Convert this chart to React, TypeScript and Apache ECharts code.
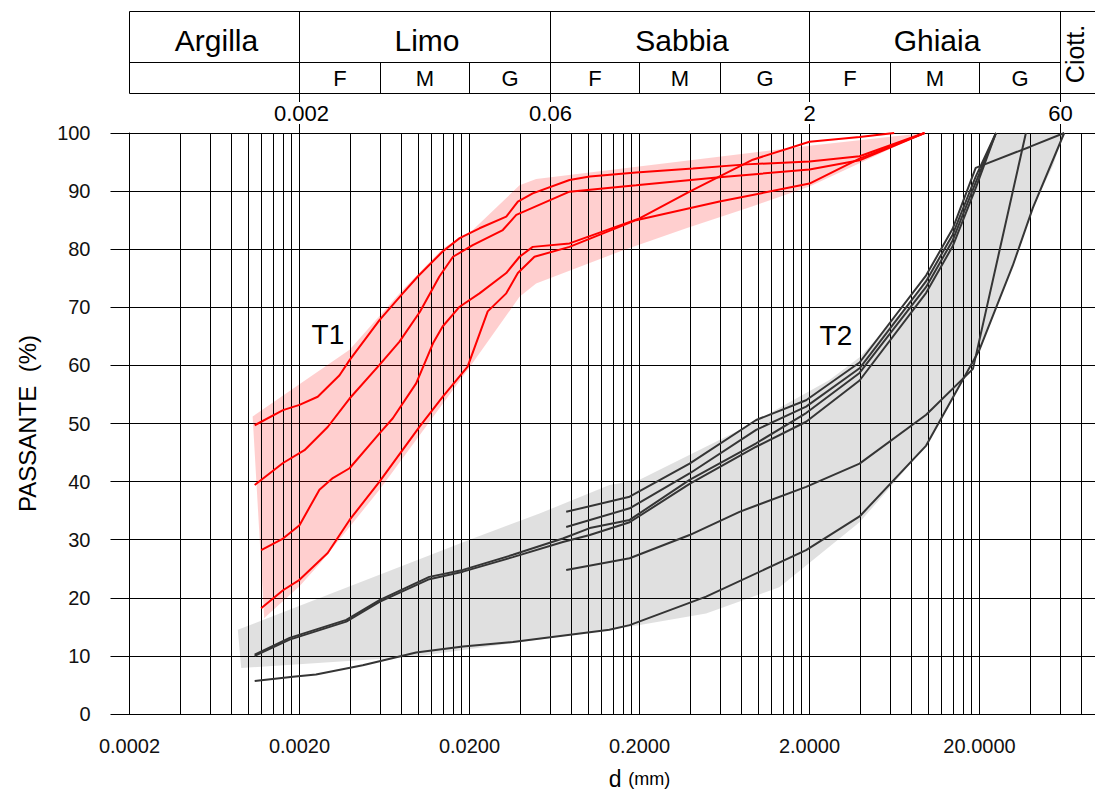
import React, { useEffect, useRef } from 'react';
import * as echarts from 'echarts';

const FONT = "'Liberation Sans', Arial, sans-serif";
const D0 = 0.0002; // left end of the grain-size axis (mm)
const D_MAX = 200; // right end of the grain-size axis (mm), beyond the cropped picture

// x tick labels (decades from 0.0002 mm)
const X_DECIMALS = 4;

// ---- T1 curves (d in mm, passante %) ----
const T1_A: [number, number][] = [[0.00109,49.7],[0.0016,52.3],[0.002,53.2],[0.00256,54.6],[0.00344,58.3],[0.00394,60.9],[0.00591,67.8],[0.0081,72.4],[0.00993,75.3],[0.0139,79.6],[0.0175,81.9],[0.0229,83.6],[0.0329,85.6],[0.0385,88.2],[0.0471,89.6],[0.0775,91.9],[0.102,92.5],[0.191,93.2],[0.412,93.9],[0.849,94.6],[2.0,95.1],[3.94,96.0],[9.5,100]];
const T1_B: [number, number][] = [[0.00109,39.4],[0.0016,43.2],[0.00214,45.4],[0.00293,49.4],[0.00394,54.3],[0.00591,60.1],[0.00775,64.1],[0.0102,69.2],[0.0133,75.3],[0.016,78.7],[0.0209,80.7],[0.0314,83.3],[0.0377,85.9],[0.0775,89.9],[0.191,91.0],[0.591,92.4],[2.0,93.7],[3.94,95.3],[9.5,100]];
const T1_C: [number, number][] = [[0.00119,28.2],[0.0016,30.2],[0.002,32.5],[0.00262,38.6],[0.00314,40.6],[0.00394,42.3],[0.00591,48.3],[0.00708,50.9],[0.00971,56.9],[0.0122,63.8],[0.0139,66.7],[0.0175,70.1],[0.0229,72.4],[0.0329,75.9],[0.0394,78.7],[0.0471,80.4],[0.0775,81.0],[0.2,85.3],[0.394,89.9],[0.928,95.4],[2.0,98.5],[3.94,99.3],[6.3,100]];
const T1_D: [number, number][] = [[0.00119,18.2],[0.0016,21.3],[0.002,23.1],[0.00293,27.7],[0.00394,33.4],[0.00591,40.0],[0.0102,49.5],[0.0139,54.6],[0.0195,59.8],[0.0256,69.3],[0.0329,72.4],[0.0385,75.9],[0.0482,78.7],[0.0775,80.4],[0.191,85.0],[0.591,88.2],[2.0,91.3],[3.94,95.6],[9.5,100]];

// T1 envelope (upper edge left->right, lower edge right->left)
const T1_BAND_UPPER: [number, number][] = [[0.00106,51.2],[0.00394,62.7],[0.0081,73.0],[0.0139,80.1],[0.0209,83.3],[0.0394,91.0],[0.0493,92.1],[2.0,97.8],[9.5,100]];
const T1_BAND_LOWER: [number, number][] = [[9.5,100],[2.0,90.8],[0.928,87.4],[0.377,83.6],[0.153,79.6],[0.0493,74.1],[0.0394,71.8],[0.0195,59.2],[0.0111,49.5],[0.00591,38.6],[0.00394,32.2],[0.00262,25.8],[0.002,22.0],[0.00127,16.8],[0.00124,16.5]];

// ---- T2 curves ----
const T2_Y: [number, number][] = [[0.00109,5.7],[0.00183,6.4],[0.0025,6.8],[0.00471,8.4],[0.00971,10.6],[0.0183,11.6],[0.036,12.4],[0.133,14.5],[0.175,15.3],[0.493,20.2],[1.91,28.2],[3.94,34.0],[9.71,46.2],[20,62.7],[31.4,77.2],[41.2,87.1],[63,100]];
const T2_X: [number, number][] = [[0.0741,24.8],[0.175,26.8],[0.394,30.8],[0.775,34.8],[1.91,39.1],[3.94,43.1],[9.71,51.5],[18.3,59.4],[37.5,100]];
const T2_L1: [number, number][] = [[0.0741,34.8],[0.175,37.4],[0.394,43.1],[0.971,50.6],[1.91,54.0],[3.94,60.5],[9.71,75.5],[13.9,83.5],[19,94.0],[39.4,97.6],[63,100]];
const T2_L2: [number, number][] = [[0.0741,32.2],[0.175,35.4],[0.394,41.4],[0.971,48.9],[1.91,52.9],[3.94,59.5],[9.71,74.5],[13.9,82.5],[19,92.5],[25,100]];
const T2_TA: [number, number][] = [[0.00109,10.2],[0.00175,13.1],[0.00377,16.2],[0.00591,19.6],[0.0116,23.6],[0.0183,24.8],[0.036,27.4],[0.0708,30.2],[0.102,32.0],[0.175,33.4],[0.394,40.3],[0.971,46.6],[1.91,51.8],[3.94,58.7],[9.71,73.5],[13.9,81.5],[19,91.5],[25,100]];
const T2_TB: [number, number][] = [[0.00109,10.0],[0.00175,12.8],[0.00377,15.9],[0.00591,19.3],[0.0116,23.2],[0.0183,24.5],[0.036,27.0],[0.0708,29.6],[0.102,30.8],[0.175,33.0],[0.394,39.6],[0.971,46.0],[1.91,50.3],[3.94,57.4],[9.71,72.5],[13.9,80.5],[19,90.5],[25,100]];

const T2_BAND_UPPER: [number, number][] = [[0.000867,14.5],[0.02,30.0],[0.0516,34.5],[0.133,39.4],[0.2,40.3],[0.775,48.9],[2.62,57.5],[3.94,61.4],[8.07,71.3],[13.9,82.4],[20,93.0],[25.1,100],[63,100]];
const T2_BAND_LOWER: [number, number][] = [[63,100],[54,94.3],[41.2,87.1],[31.4,77.2],[20,62.7],[9.71,46.2],[5.91,38.9],[3.94,33.0],[1.33,21.8],[0.493,17.3],[0.159,14.8],[0.0097,9.9],[0.000908,7.9]];

// ---- header table (classification) ----
const CLASSES = ['Argilla', 'Limo', 'Sabbia', 'Ghiaia'];
const CLASS_BOUNDS = [D0, 0.002, 0.06, 2, 60];
const SUB_BOUNDS = [0.006, 0.02, 0.2, 0.6, 6, 20];
const SUB_LABELS = ['F', 'M', 'G'];
const BOUND_LABELS = ['0.002', '0.06', '2', '60'];
const BOUND_VALUES = [0.002, 0.06, 2, 60];
const LAST_CLASS = 'Ciott.';

// group labels placed in the plot
const GROUP_LABELS: { text: string; d: number; p: number }[] = [
  { text: 'T1', d: 0.00294, p: 65.4 },
  { text: 'T2', d: 2.86, p: 65.1 },
];

const toU = (d: number) => Math.log10(d / D0);

export default function App() {
  const ref = useRef<HTMLDivElement>(null);
  useEffect(() => {
    document.documentElement.style.overflow = 'hidden';
    document.body.style.margin = '0';
    document.body.style.overflow = 'hidden';
    const chart = echarts.init(ref.current!, null, { renderer: 'svg' });
    const toLine = (pts: [number, number][]) => pts.map(([d, p]) => [toU(d), p]);
    const crisp = (v: number) => Math.round(v - 0.5) + 0.5;

    // vertical log grid lines: m * 10^k * D0
    const gridU: number[][] = [];
    for (let k = 0; k < 6; k++) {
      for (let m = 1; m <= 9; m++) {
        const d = D0 * m * Math.pow(10, k);
        if (d <= D_MAX) gridU.push([toU(d), 0]);
      }
    }

    const bandSeries = (upper: [number, number][], lower: [number, number][], fill: string) => {
      const pts = toLine([...upper, ...lower]);
      return {
        type: 'custom',
        coordinateSystem: 'cartesian2d',
        silent: true,
        z: 1,
        data: [[0, 0]],
        renderItem: (_p: any, api: any) => ({
          type: 'polygon',
          shape: { points: pts.map((p) => api.coord(p)) },
          style: { fill },
        }),
      };
    };

    const lineSeries = (pts: [number, number][], color: string) => ({
      type: 'line',
      data: toLine(pts),
      showSymbol: false,
      symbol: 'none',
      silent: true,
      z: 3,
      lineStyle: { color, width: 2 },
    });

    const option: any = {
      animation: false,
      grid: { left: 129.5, top: 133, width: 1020, height: 581, containLabel: false, outerBoundsMode: 'none' },
      xAxis: {
        type: 'value',
        min: 0,
        max: toU(D_MAX),
        interval: 1,
        axisLine: { show: true, lineStyle: { color: '#000', width: 1 } },
        axisTick: { show: false },
        splitLine: { show: false },
        axisLabel: {
          showMaxLabel: false,
          fontSize: 20,
          fontFamily: FONT,
          color: '#111',
          margin: 22,
          formatter: (u: number) => Number((D0 * Math.pow(10, u)).toPrecision(1)).toFixed(X_DECIMALS),
        },
        name: '{a|d}  {b|(mm)}',
        nameLocation: 'middle',
        nameGap: 54,
        nameTextStyle: {
          lineHeight: 22,
          rich: {
            a: { fontSize: 23, lineHeight: 22, fontFamily: FONT, color: '#000' },
            b: { fontSize: 18, lineHeight: 22, fontFamily: FONT, color: '#000' },
          },
        },
      },
      yAxis: {
        type: 'value',
        min: 0,
        max: 100,
        interval: 10,
        axisLine: { show: true, lineStyle: { color: '#000', width: 1 } },
        axisTick: { show: true, length: 19, lineStyle: { color: '#000' } },
        splitLine: { show: true, lineStyle: { color: '#000', width: 1 } },
        axisLabel: { fontSize: 20, fontFamily: FONT, color: '#111', margin: 39 },
        name: 'PASSANTE\u00a0\u00a0(%)',
        nameLocation: 'middle',
        nameGap: 90,
        nameRotate: 90,
        nameTextStyle: { fontSize: 24, fontFamily: FONT, color: '#000' },
      },
      series: [
        bandSeries(T1_BAND_UPPER, T1_BAND_LOWER, 'rgba(255,0,0,0.19)'),
        bandSeries(T2_BAND_UPPER, T2_BAND_LOWER, 'rgba(0,0,0,0.12)'),
        {
          type: 'custom',
          coordinateSystem: 'cartesian2d',
          silent: true,
          z: 2,
          data: gridU,
          renderItem: (_p: any, api: any) => {
            const u = api.value(0);
            const a = api.coord([u, 0]);
            const b = api.coord([u, 100]);
            const x = crisp(a[0]);
            return {
              type: 'line',
              shape: { x1: x, y1: a[1], x2: x, y2: b[1] },
              style: { stroke: '#000', lineWidth: 1 },
            };
          },
        },
        lineSeries(T1_A, '#ff0000'),
        lineSeries(T1_B, '#ff0000'),
        lineSeries(T1_C, '#ff0000'),
        lineSeries(T1_D, '#ff0000'),
        lineSeries(T2_Y, '#353535'),
        lineSeries(T2_X, '#353535'),
        lineSeries(T2_L1, '#353535'),
        lineSeries(T2_L2, '#353535'),
        lineSeries(T2_TA, '#353535'),
        lineSeries(T2_TB, '#353535'),
      ],
    };
    chart.setOption(option);

    // ---- header table drawn with the axis scale ----
    const px = (d: number) => crisp(chart.convertToPixel({ xAxisIndex: 0 }, toU(d)) as number);
    const xRight = 1095;
    const yTop = 11.5, yMid = 62.5, yBot = 93.5, yPlot = 133;
    const stroke = { stroke: '#000', lineWidth: 1 };
    const g: any[] = [];
    const line = (x1: number, y1: number, x2: number, y2: number) =>
      g.push({ type: 'line', silent: true, shape: { x1, y1, x2, y2 }, style: stroke });
    const text = (t: string, x: number, y: number, size: number, extra: any = {}) =>
      g.push({
        type: 'text', silent: true, x, y, ...extra,
        style: { text: t, fontSize: size, fontFamily: FONT, fill: '#000', align: 'center', verticalAlign: 'middle' },
      });

    const x0 = px(CLASS_BOUNDS[0]);
    const xLast = px(CLASS_BOUNDS[CLASS_BOUNDS.length - 1]);
    line(x0, yTop, xRight, yTop);
    line(x0, yMid, xLast, yMid);
    line(x0, yBot, xRight, yBot);
    CLASS_BOUNDS.forEach((d) => line(px(d), yTop, px(d), yBot));
    SUB_BOUNDS.forEach((d) => line(px(d), yMid, px(d), yBot));
    CLASSES.forEach((c, i) => {
      const a = px(CLASS_BOUNDS[i]);
      const b = px(CLASS_BOUNDS[i + 1]);
      text(c, (a + b) / 2 + 2, 40, 30);
    });
    // sub-class letters for Limo, Sabbia, Ghiaia
    for (let i = 1; i < CLASSES.length; i++) {
      const edges = [CLASS_BOUNDS[i], SUB_BOUNDS[(i - 1) * 2], SUB_BOUNDS[(i - 1) * 2 + 1], CLASS_BOUNDS[i + 1]];
      SUB_LABELS.forEach((s, j) => {
        text(s, (px(edges[j]) + px(edges[j + 1])) / 2, 78, 22);
      });
    }
    // boundary values between table and plot
    BOUND_VALUES.forEach((d, i) => {
      const x = px(d);
      line(x, yBot, x, 102);
      line(x, 124, x, yPlot);
      text(BOUND_LABELS[i], x + (i === 0 ? 2 : 0), 113, 22);
    });
    text(LAST_CLASS, xLast + 14, 54, 25, { rotation: Math.PI / 2 });

    GROUP_LABELS.forEach((l) => {
      const p = chart.convertToPixel({ gridIndex: 0 }, [toU(l.d), l.p]) as number[];
      text(l.text, p[0], p[1], 28);
    });

    chart.setOption({ graphic: g });
    return () => chart.dispose();
  }, []);
  return <div ref={ref} style={{ width: 1095, height: 791, overflow: 'hidden', position: 'relative' }} />;
}
